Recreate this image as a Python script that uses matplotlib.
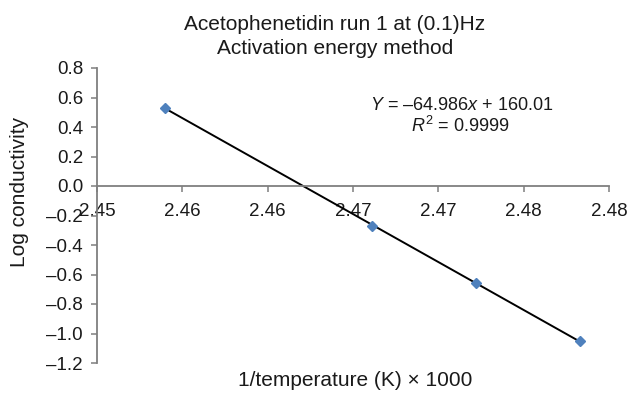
import matplotlib
matplotlib.use("Agg")
import matplotlib.pyplot as plt
import numpy as np

plt.rcParams['font.family'] = ['Liberation Sans', 'DejaVu Sans']
plt.rcParams['mathtext.fontset'] = 'custom'
plt.rcParams['mathtext.rm'] = 'Liberation Sans'
plt.rcParams['mathtext.it'] = 'Liberation Sans:italic'

# Data
inv_temp = [2.4540, 2.4661, 2.4722, 2.4783]
log_cond = [0.53, -0.27, -0.66, -1.05]

x_ticks = [2.450, 2.455, 2.460, 2.465, 2.470, 2.475, 2.480]
x_tick_labels = ["2.45", "2.46", "2.46", "2.47", "2.47", "2.48", "2.48"]
y_ticks = [-1.2, -1.0, -0.8, -0.6, -0.4, -0.2, 0.0, 0.2, 0.4, 0.6, 0.8]
y_tick_labels = ["–1.2", "–1.0", "–0.8", "–0.6", "–0.4", "–0.2", "0.0", "0.2", "0.4", "0.6", "0.8"]

title_lines = ["Acetophenetidin run 1 at (0.1)Hz", "Activation energy method"]
eq_text = r"$Y$ = –64.986$x$ + 160.01"
r2_text = r"$R^2$ = 0.9999"

fig = plt.figure(figsize=(6.28, 3.93), dpi=100)
W, H = 628, 393
ax = fig.add_axes([97 / W, 1 - 363 / H, (609 - 97) / W, (363 - 68) / H])

xs = np.array(inv_temp)
ys = np.array(log_cond)
coef = np.polyfit(xs, ys, 1)
xl = np.array([xs.min(), xs.max()])
ax.plot(xl, np.polyval(coef, xl), color='black', lw=1.4, zorder=2)
ax.plot(xs, ys, linestyle='none', marker='D', markersize=5, color='#4f81bd',
        markeredgecolor='#4f81bd', zorder=3)

ax.set_xlim(2.45, 2.48)
ax.set_ylim(-1.2, 0.8)
ax.set_xticks(x_ticks)
ax.set_xticklabels(x_tick_labels)
ax.set_yticks(y_ticks)
ax.set_yticklabels(y_tick_labels)

gray = '#7f7f7f'
for s in ['top', 'right']:
    ax.spines[s].set_visible(False)
ax.spines['bottom'].set_position(('data', 0))
ax.spines['left'].set_color(gray)
ax.spines['bottom'].set_color(gray)
ax.spines['left'].set_linewidth(1.3)
ax.spines['bottom'].set_linewidth(1.3)
ax.tick_params(axis='both', colors=gray, labelcolor='#1a1a1a', labelsize=13.5,
               length=4, width=1.1, direction='out')
ax.tick_params(axis='x', pad=8)
ax.tick_params(axis='y', pad=6)
ax.set_facecolor('none')

fig.text(335 / W, 1 - 25 / H, title_lines[0], ha='center', va='center', fontsize=15, color='#1a1a1a')
fig.text(335 / W, 1 - 48 / H, title_lines[1], ha='center', va='center', fontsize=15, color='#1a1a1a')
fig.text(462 / W, 1 - 105 / H, eq_text, ha='center', va='center', fontsize=13, color='#1a1a1a')
fig.text(460 / W, 1 - 126 / H, r2_text, ha='center', va='center', fontsize=13, color='#1a1a1a')
fig.text(20 / W, 1 - 192 / H, "Log conductivity", rotation=90, ha='center', va='center',
         fontsize=15, color='#1a1a1a')
fig.text(355 / W, 1 - 380 / H, "1/temperature (K) × 1000", ha='center', va='center',
         fontsize=15, color='#1a1a1a')

fig.savefig("out.png", dpi=100)
